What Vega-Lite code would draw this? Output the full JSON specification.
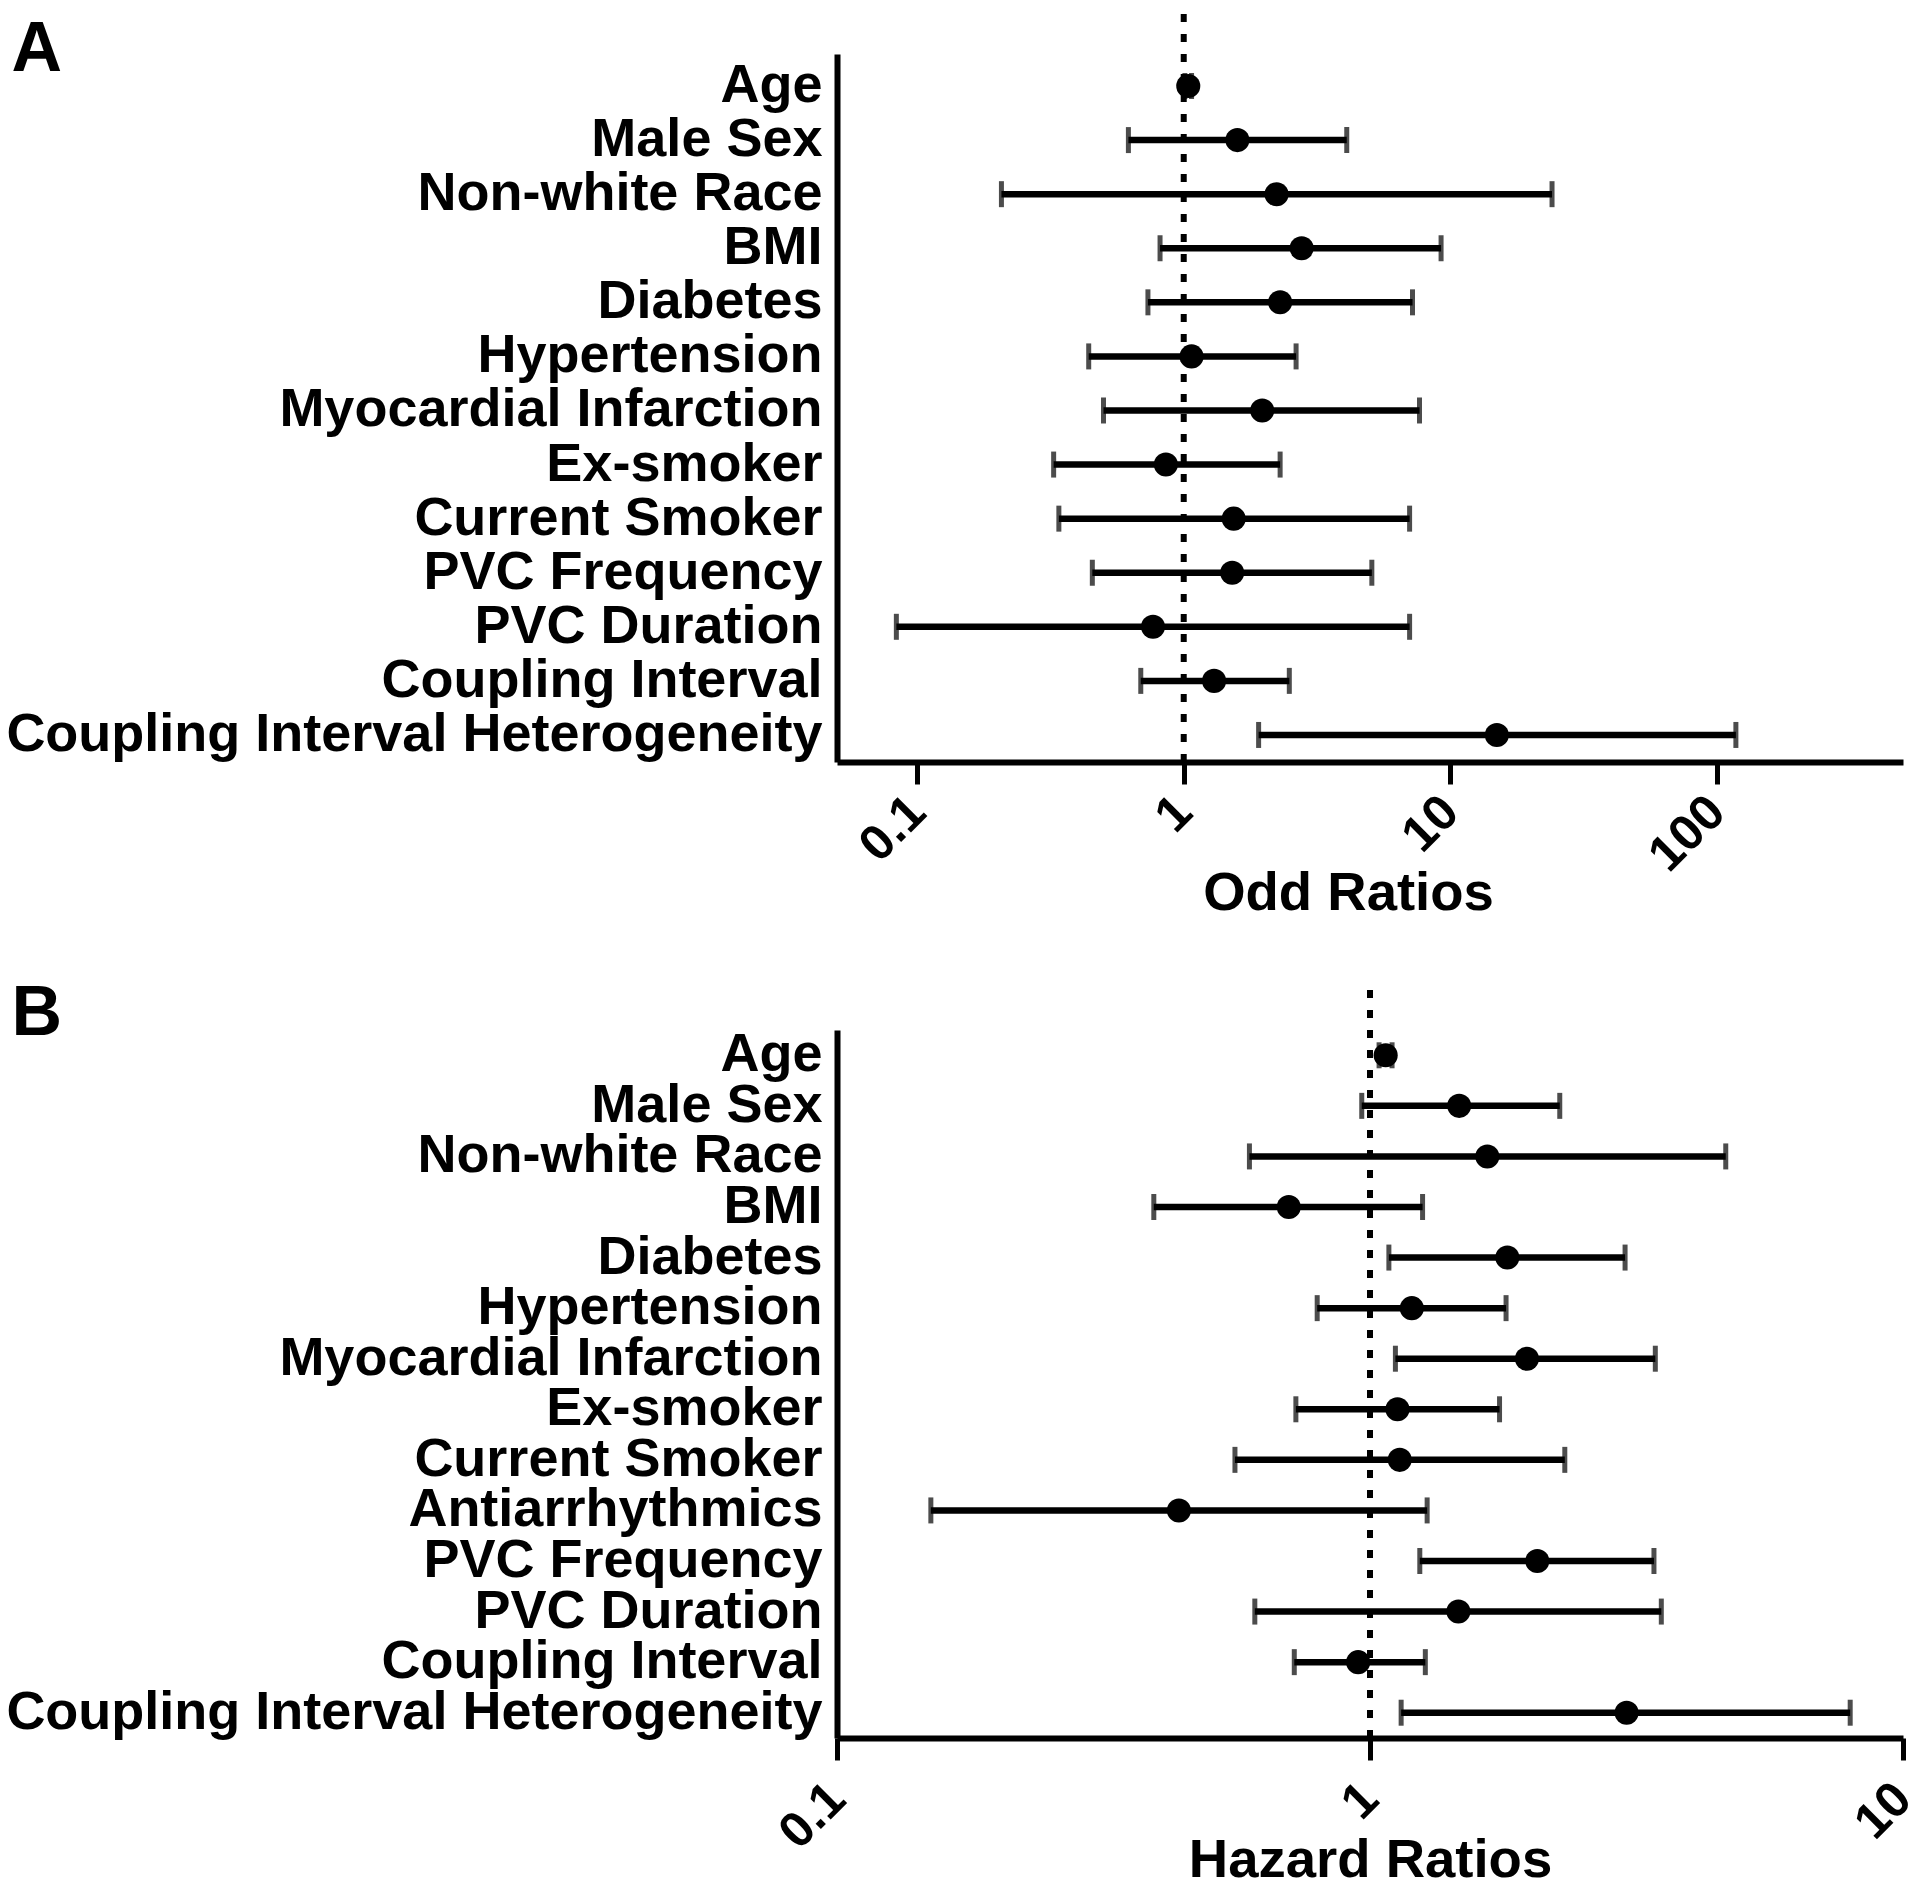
{
  "$schema": "https://vega.github.io/schema/vega-lite/v6.json",
  "background": "white",
  "padding": {"left": 5, "top": 4, "right": 0, "bottom": 0},
  "spacing": 57,
  "config": {"font": "Liberation Sans", "view": {"stroke": null}},
  "vconcat": [
    {
      "width": 1066,
      "height": 708,
      "data": {"values": [
        {"name": "Age", "est": 1.04, "lo": 1.01, "hi": 1.07},
        {"name": "Male Sex", "est": 1.59, "lo": 0.62, "hi": 4.09},
        {"name": "Non-white Race", "est": 2.23, "lo": 0.207, "hi": 24.1},
        {"name": "BMI", "est": 2.77, "lo": 0.815, "hi": 9.24},
        {"name": "Diabetes", "est": 2.3, "lo": 0.734, "hi": 7.22},
        {"name": "Hypertension", "est": 1.07, "lo": 0.44, "hi": 2.64},
        {"name": "Myocardial Infarction", "est": 1.97, "lo": 0.5, "hi": 7.67},
        {"name": "Ex-smoker", "est": 0.857, "lo": 0.325, "hi": 2.3},
        {"name": "Current Smoker", "est": 1.54, "lo": 0.34, "hi": 7.04},
        {"name": "PVC Frequency", "est": 1.52, "lo": 0.454, "hi": 5.08},
        {"name": "PVC Duration", "est": 0.767, "lo": 0.0835, "hi": 7.04},
        {"name": "Coupling Interval", "est": 1.3, "lo": 0.69, "hi": 2.49},
        {"name": "Coupling Interval Heterogeneity", "est": 14.96, "lo": 1.91, "hi": 118}
      ]},
      "layer": [
        {
          "data": {"values": [{"ref": 1}]},
          "mark": {"type": "rule", "strokeDash": [8, 12], "strokeWidth": 6, "color": "#000"},
          "encoding": {
            "x": {"field": "ref", "type": "quantitative", "scale": {"type": "log", "domain": [0.05, 500], "nice": false},
              "axis": {"title": "Odd Ratios", "titleX": 511, "values": [0.1, 1, 10, 100], "format": "~g", "labelAngle": -45, "labelBaseline": "middle", "labelAlign": "right", "labelFlush": false, "labelFontSize": 50, "labelFontWeight": "bold", "labelColor": "#000", "labelPadding": 20, "tickSize": 22, "tickWidth": 5, "tickColor": "#000", "domainColor": "#000", "domainWidth": 6, "grid": false, "titleFontSize": 54.5, "titleFontWeight": "bold", "titleColor": "#000", "titlePadding": -14}},
            "y": {"datum": 0, "type": "quantitative", "scale": {"domain": [0, 1]}, "axis": null},
            "y2": {"datum": 1.065}
          }
        },
        {
          "encoding": {
            "y": {"field": "name", "type": "nominal", "sort": null, "scale": {"paddingOuter": 0.046, "align": 1},
              "axis": {"title": "A", "titleAngle": 0, "titleAlign": "left", "titleBaseline": "alphabetic", "titleX": -826, "titleY": 16, "titleFontSize": 70, "titleFontWeight": "bold", "titleColor": "#000",
                "orient": "left", "ticks": false, "labelFontSize": 54, "labelFontWeight": "bold", "labelColor": "#000", "labelPadding": 15, "labelLimit": 0, "domainColor": "#000", "domainWidth": 6}}
          },
          "layer": [
            {"mark": {"type": "rule", "strokeWidth": 6.5, "color": "#000"},
             "encoding": {"x": {"field": "lo", "type": "quantitative", "scale": {"type": "log", "domain": [0.05, 500], "nice": false},
               "axis": {"title": "Odd Ratios", "titleX": 511, "values": [0.1, 1, 10, 100], "format": "~g", "labelAngle": -45, "labelBaseline": "middle", "labelAlign": "right", "labelFlush": false, "labelFontSize": 50, "labelFontWeight": "bold", "labelColor": "#000", "labelPadding": 20, "tickSize": 22, "tickWidth": 5, "tickColor": "#000", "domainColor": "#000", "domainWidth": 6, "grid": false, "titleFontSize": 54.5, "titleFontWeight": "bold", "titleColor": "#000", "titlePadding": -14}},
               "x2": {"field": "hi"}}},
            {"mark": {"type": "tick", "thickness": 5, "size": 26, "color": "#000", "orient": "vertical"},
             "encoding": {"x": {"field": "lo", "type": "quantitative"}}},
            {"mark": {"type": "tick", "thickness": 5, "size": 26, "color": "#000", "orient": "vertical"},
             "encoding": {"x": {"field": "hi", "type": "quantitative"}}},
            {"mark": {"type": "point", "filled": true, "size": 580, "color": "#000", "opacity": 1},
             "encoding": {"x": {"field": "est", "type": "quantitative"}}}
          ]
        }
      ],
      "resolve": {"scale": {"y": "independent"}}
    },
    {
      "width": 1066,
      "height": 708,
      "data": {"values": [
        {"name": "Age", "est": 1.07, "lo": 1.04, "hi": 1.1},
        {"name": "Male Sex", "est": 1.47, "lo": 0.965, "hi": 2.27},
        {"name": "Non-white Race", "est": 1.66, "lo": 0.594, "hi": 4.65},
        {"name": "BMI", "est": 0.704, "lo": 0.393, "hi": 1.255},
        {"name": "Diabetes", "est": 1.81, "lo": 1.085, "hi": 3.01},
        {"name": "Hypertension", "est": 1.198, "lo": 0.796, "hi": 1.8},
        {"name": "Myocardial Infarction", "est": 1.97, "lo": 1.116, "hi": 3.43},
        {"name": "Ex-smoker", "est": 1.126, "lo": 0.726, "hi": 1.75},
        {"name": "Current Smoker", "est": 1.137, "lo": 0.558, "hi": 2.32},
        {"name": "Antiarrhythmics", "est": 0.438, "lo": 0.15, "hi": 1.28},
        {"name": "PVC Frequency", "est": 2.06, "lo": 1.24, "hi": 3.41},
        {"name": "PVC Duration", "est": 1.465, "lo": 0.608, "hi": 3.52},
        {"name": "Coupling Interval", "est": 0.95, "lo": 0.721, "hi": 1.27},
        {"name": "Coupling Interval Heterogeneity", "est": 3.03, "lo": 1.144, "hi": 7.96}
      ]},
      "layer": [
        {
          "data": {"values": [{"ref": 1}]},
          "mark": {"type": "rule", "strokeDash": [8, 12], "strokeWidth": 6, "color": "#000"},
          "encoding": {
            "x": {"field": "ref", "type": "quantitative", "scale": {"type": "log", "domain": [0.1, 10], "nice": false},
              "axis": {"title": "Hazard Ratios", "values": [0.1, 1, 10], "format": "~g", "labelAngle": -45, "labelBaseline": "middle", "labelAlign": "right", "labelFlush": false, "labelFontSize": 50, "labelFontWeight": "bold", "labelColor": "#000", "labelPadding": 31, "tickSize": 22, "tickWidth": 5, "tickColor": "#000", "domainColor": "#000", "domainWidth": 6, "grid": false, "titleFontSize": 54.5, "titleFontWeight": "bold", "titleColor": "#000", "titlePadding": -24}},
            "y": {"datum": 0, "type": "quantitative", "scale": {"domain": [0, 1]}, "axis": null},
            "y2": {"datum": 1.061}
          }
        },
        {
          "encoding": {
            "y": {"field": "name", "type": "nominal", "sort": null, "scale": {"paddingOuter": 0},
              "axis": {"title": "B", "titleAngle": 0, "titleAlign": "left", "titleBaseline": "alphabetic", "titleX": -826, "titleY": 4, "titleFontSize": 70, "titleFontWeight": "bold", "titleColor": "#000",
                "orient": "left", "ticks": false, "labelFontSize": 54, "labelFontWeight": "bold", "labelColor": "#000", "labelPadding": 15, "labelLimit": 0, "domainColor": "#000", "domainWidth": 6}}
          },
          "layer": [
            {"mark": {"type": "rule", "strokeWidth": 6.5, "color": "#000"},
             "encoding": {"x": {"field": "lo", "type": "quantitative", "scale": {"type": "log", "domain": [0.1, 10], "nice": false},
               "axis": {"title": "Hazard Ratios", "values": [0.1, 1, 10], "format": "~g", "labelAngle": -45, "labelBaseline": "middle", "labelAlign": "right", "labelFlush": false, "labelFontSize": 50, "labelFontWeight": "bold", "labelColor": "#000", "labelPadding": 31, "tickSize": 22, "tickWidth": 5, "tickColor": "#000", "domainColor": "#000", "domainWidth": 6, "grid": false, "titleFontSize": 54.5, "titleFontWeight": "bold", "titleColor": "#000", "titlePadding": -24}},
               "x2": {"field": "hi"}}},
            {"mark": {"type": "tick", "thickness": 5, "size": 26, "color": "#000", "orient": "vertical"},
             "encoding": {"x": {"field": "lo", "type": "quantitative"}}},
            {"mark": {"type": "tick", "thickness": 5, "size": 26, "color": "#000", "orient": "vertical"},
             "encoding": {"x": {"field": "hi", "type": "quantitative"}}},
            {"mark": {"type": "point", "filled": true, "size": 580, "color": "#000", "opacity": 1},
             "encoding": {"x": {"field": "est", "type": "quantitative"}}}
          ]
        }
      ],
      "resolve": {"scale": {"y": "independent"}}
    }
  ]
}
